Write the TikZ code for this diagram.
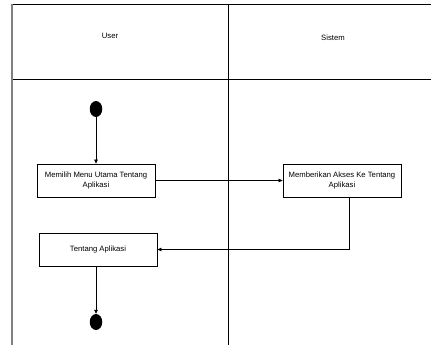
\documentclass[tikz,border=0pt]{standalone}
\usepackage{fontspec}
\setmainfont{Liberation Sans}
\usetikzlibrary{arrows.meta,shapes.geometric}
\begin{document}
\begin{tikzpicture}[x=1pt,y=-1pt,
  line/.style={draw=black,line width=0.8pt},
  act/.style={draw=black,line width=0.8pt,fill=white,minimum width=118pt,minimum height=33pt,inner sep=1pt,align=center,font=\fontsize{7.7}{9.6}\selectfont},
  dot/.style={ellipse,fill=black,minimum width=12.5pt,minimum height=16pt,inner sep=0pt},
  lbl/.style={font=\fontsize{7.7}{9.6}\selectfont},
  flow/.style={draw=black,line width=0.7pt,-{Triangle[length=4pt,width=3.6pt]}}]
\useasboundingbox (0,0) rectangle (431,345);
\fill[white] (0,0) rectangle (431,345);
% swimlanes
\draw[line] (12,4.3) -- (431,4.3);
\draw[line] (12,79) -- (431,79);
\draw[line] (228,4.3) -- (228,345);
\draw[draw=gray,line width=1.2pt] (12,4) -- (12,345);
\node[lbl] (user) at (110,36) {User};
\node[lbl] (sistem) at (333,38) {Sistem};
% nodes
\node[dot] (start) at (96,109) {};
\node[act] (a1) at (96,180.5) {Memilih Menu Utama Tentang\\Aplikasi};
\node[act] (a2) at (342,180.5) {Memberikan Akses Ke Tentang\\Aplikasi};
\node[act] (a3) at (98,249.5) {Tentang Aplikasi};
\node[dot] (end) at (96,322) {};
% flows
\draw[flow] (start) -- (a1);
\draw[flow] (a1) -- (a2);
\draw[flow] (a2.south -| 349,0) |- (a3.east);
\draw[flow] (a3.south -| end) -- (end);
\end{tikzpicture}
\end{document}
